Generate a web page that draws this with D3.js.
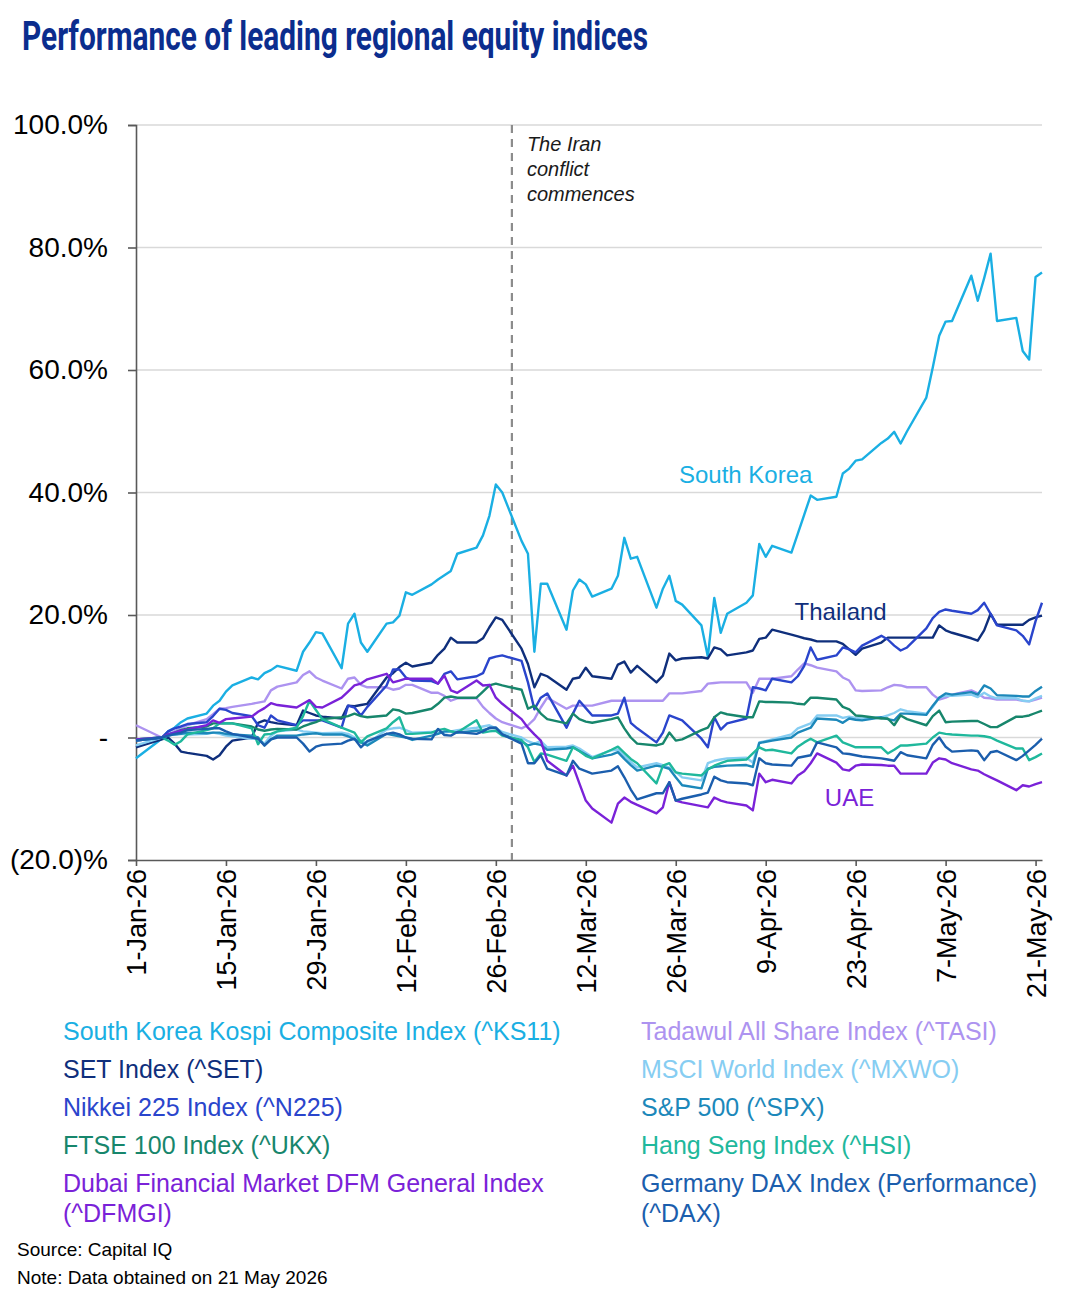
<!DOCTYPE html>
<html><head><meta charset="utf-8">
<script src="https://cdn.jsdelivr.net/npm/d3@7"></script>
<style>body{margin:0;background:#fff}svg{display:block}</style>
</head><body><svg id="c" width="1070" height="1293"></svg>
<script>
// ---------- DATA ----------
const dates = ["2026-01-01",
"2026-01-05","2026-01-06","2026-01-07","2026-01-08","2026-01-09",
"2026-01-12","2026-01-13","2026-01-14","2026-01-15","2026-01-16",
"2026-01-19","2026-01-20","2026-01-21","2026-01-22","2026-01-23",
"2026-01-26","2026-01-27","2026-01-28","2026-01-29","2026-01-30",
"2026-02-02","2026-02-03","2026-02-04","2026-02-05","2026-02-06",
"2026-02-09","2026-02-10","2026-02-11","2026-02-12","2026-02-13",
"2026-02-16","2026-02-17","2026-02-18","2026-02-19","2026-02-20",
"2026-02-23","2026-02-24","2026-02-25","2026-02-26","2026-02-27",
"2026-03-02","2026-03-03","2026-03-04","2026-03-05","2026-03-06",
"2026-03-09","2026-03-10","2026-03-11","2026-03-12","2026-03-13",
"2026-03-16","2026-03-17","2026-03-18","2026-03-19","2026-03-20",
"2026-03-23","2026-03-24","2026-03-25","2026-03-26","2026-03-27",
"2026-03-30","2026-03-31","2026-04-01","2026-04-02","2026-04-03",
"2026-04-06","2026-04-07","2026-04-08","2026-04-09","2026-04-10",
"2026-04-13","2026-04-14","2026-04-15","2026-04-16","2026-04-17",
"2026-04-20","2026-04-21","2026-04-22","2026-04-23","2026-04-24",
"2026-04-27","2026-04-28","2026-04-29","2026-04-30","2026-05-01",
"2026-05-04","2026-05-05","2026-05-06","2026-05-07","2026-05-08",
"2026-05-11","2026-05-12","2026-05-13","2026-05-14","2026-05-15",
"2026-05-18","2026-05-19","2026-05-20","2026-05-21","2026-05-22"];

const korea = [-3.4,
 -0.2,1.0,1.6,2.5,3.1, 3.9,5.2,6.0,7.5,8.5, 9.8,9.5,10.5,11.0,11.7, 10.9,14.0,15.5,17.2,17.0,
 11.3,18.6,20.2,15.5,14.0, 18.6,18.8,19.9,23.7,23.3, 25.0,25.8,26.5,27.2,30.0, 31.0,33.0,36.2,41.3,40.0,
 32.1,30.0,14.0,25.1,25.1, 17.6,24.0,25.8,25.0,23.0, 24.3,26.4,32.6,29.2,29.5, 21.2,24.3,26.4,22.3,21.7,
 18.3,13.2,22.8,17.1,20.2, 22.0,23.2,31.6,29.5,31.3, 30.2,33.3,36.4,39.5,38.8, 39.3,43.1,43.9,45.2,45.4,
 48.1,48.8,49.9,48.0,50.0, 55.5,60.4,65.6,67.9,68.0, 75.4,71.3,75.0,79.0,68.0, 68.5,63.1,61.7,75.2,75.9];

const setIdx = [-1.6,
 -0.3,0.0,-1.0,-2.3,-2.5, -3.0,-3.6,-2.9,-1.5,-0.5, 0.0,2.4,2.8,2.5,2.3, 2.0,4.4,4.0,3.6,3.4,
 3.1,5.2,5.1,5.3,5.5, 9.8,10.5,11.5,12.2,11.6, 12.2,13.5,14.5,16.3,15.5, 15.5,16.2,18.0,19.6,19.2,
 14.5,12.0,8.2,10.4,10.0, 7.8,9.6,9.8,11.4,10.0, 9.6,11.9,12.4,10.6,11.7, 9.0,10.1,13.7,12.6,12.9,
 13.1,12.9,14.7,14.4,13.4, 13.9,14.2,16.1,16.3,17.6, 16.8,16.5,16.2,16.0,15.7, 15.7,15.3,14.4,13.5,14.5,
 15.5,16.3,16.3,16.3,16.3, 16.3,16.3,18.3,17.5,17.1, 16.2,15.8,17.5,20.2,18.4, 18.4,18.4,19.2,19.6,19.9];

const nikkei = [-0.5,
 0.0,1.0,1.5,1.8,2.2, 2.5,3.5,4.7,4.5,4.0, 3.5,2.0,1.6,3.6,2.8, 2.0,2.8,2.8,2.8,2.8,
 1.6,5.2,4.9,3.6,5.0, 8.5,11.1,11.1,9.8,9.3, 9.2,8.8,10.4,10.8,9.5, 10.0,10.5,12.9,13.2,13.4,
 12.5,9.0,4.6,6.5,7.2, 1.6,3.9,6.0,4.8,3.6, 3.6,3.9,6.5,2.4,1.5, -0.8,0.8,3.6,3.2,2.8,
 -0.2,-1.6,3.3,1.3,2.3, 3.1,8.2,8.0,7.7,9.6, 9.0,10.0,11.7,14.7,12.7, 13.4,14.7,14.4,13.9,15.0,
 16.6,16.0,15.0,14.2,14.7, 17.8,19.5,20.5,20.9,20.7, 20.2,20.8,22.0,20.2,18.3, 17.5,16.6,15.2,19.0,22.0];

const ftse = [-0.3,
 0.0,0.5,0.8,1.2,1.5, 1.8,2.3,2.3,2.3,2.3, 1.8,1.3,1.1,1.3,1.4, 1.3,1.8,2.2,2.5,3.0,
 3.3,3.5,3.9,3.5,3.3, 3.6,4.6,4.4,3.9,4.0, 4.7,5.5,6.5,6.7,6.5, 6.5,7.5,8.5,8.8,8.5,
 7.8,4.7,5.2,3.9,3.0, 2.3,3.9,3.0,2.6,2.4, 3.0,3.3,1.5,0.0,-1.0, -1.3,-1.0,0.8,-0.5,-0.3,
 1.2,1.6,3.3,4.1,3.8, 3.3,3.3,5.9,5.8,5.8, 5.7,5.5,5.4,6.5,6.5, 6.2,5.0,4.6,3.6,3.5,
 3.1,3.1,2.0,3.6,3.0, 2.0,3.5,4.4,2.5,2.6, 2.7,2.7,2.2,1.7,1.7, 3.4,3.4,3.6,4.0,4.4];

const dfm = [-0.3,
 0.0,0.5,0.8,1.1,1.3, 2.0,2.8,2.4,3.0,3.1, 3.4,4.2,4.8,5.6,5.3, 4.9,5.5,6.1,5.0,4.9,
 6.5,7.5,8.5,8.8,9.5, 10.4,9.0,9.3,9.6,9.6, 9.6,8.8,10.1,7.7,7.3, 9.3,8.5,8.6,6.5,5.5,
 3.0,1.6,0.5,-0.5,-3.8, -6.2,-4.6,-7.5,-10.3,-11.6, -13.9,-10.8,-9.8,-10.5,-11.0, -12.4,-11.4,-7.3,-10.3,-10.6,
 -11.2,-11.4,-9.8,-10.3,-10.6, -11.1,-11.9,-5.9,-7.3,-6.9, -7.5,-6.2,-5.5,-4.2,-2.6, -4.1,-5.2,-5.4,-4.6,-4.4,
 -4.5,-4.6,-4.6,-5.9,-5.9, -5.9,-4.1,-3.4,-3.6,-4.2, -5.2,-5.4,-6.0,-6.5,-7.0, -8.6,-7.8,-8.0,-7.6,-7.3];

const tadawul = [2.0,
 0.0,0.5,1.0,1.5,2.0, 3.0,3.8,4.7,4.8,5.0, 5.5,5.7,5.9,7.7,8.3, 9.0,10.2,10.8,9.8,9.3,
 8.0,9.6,9.8,8.6,8.2, 8.2,7.8,8.0,8.6,8.6, 7.3,7.3,6.8,6.0,6.4, 6.4,5.0,4.0,3.1,2.5,
 1.5,2.0,3.0,4.9,6.5, 4.7,5.2,5.2,5.2,5.2, 6.0,6.0,6.0,6.0,6.0, 6.0,6.0,7.2,7.2,7.2,
 7.6,8.8,8.9,9.0,9.0, 9.0,7.3,9.6,9.6,9.6, 10.0,11.1,12.1,11.8,11.4, 10.8,9.8,9.3,7.7,7.6,
 7.7,8.2,8.6,8.5,8.2, 8.2,7.0,6.2,6.5,7.0, 7.7,7.2,6.5,6.4,6.2, 6.2,6.0,5.9,6.2,6.5];

const msci = [-1.3,
 0.0,0.3,0.5,0.6,0.5, 0.6,0.8,0.6,0.3,0.2, -0.2,-0.2,-1.0,0.3,1.0, 1.3,1.0,0.9,0.8,0.7,
 0.8,0.6,0.0,-0.5,-1.0, 1.3,1.5,1.6,1.2,0.8, 0.9,0.8,0.8,1.0,1.2, 1.6,1.8,2.0,1.5,0.9,
 0.0,-0.6,-1.0,-0.6,-1.6, -1.5,-1.3,-1.8,-2.5,-3.2, -2.1,-2.0,-3.0,-4.0,-4.9, -4.2,-4.5,-4.9,-5.6,-6.5,
 -7.0,-4.2,-3.8,-3.6,-3.4, -3.3,-4.1,-0.8,-0.6,-0.3, 0.5,1.5,1.9,2.3,3.6, 3.6,3.2,3.4,3.2,3.1,
 3.3,3.6,4.0,4.6,4.3, 3.9,5.0,6.5,6.8,6.8, 7.0,6.6,7.3,6.7,6.4, 6.4,6.0,5.9,6.4,6.8];

const spx = [-0.5,
 0.0,0.3,0.5,0.6,0.8, 0.7,0.8,0.8,0.6,0.5, 0.3,0.0,-1.3,-0.3,0.3, 0.3,0.5,0.6,0.7,0.5,
 0.5,0.2,-0.3,-0.8,-1.3, 0.6,0.4,0.2,0.0,-0.4, 0.3,0.6,1.0,1.0,0.8, 1.1,1.2,1.5,1.6,0.5,
 -0.6,-1.3,-1.0,-1.2,-2.0, -1.8,-1.6,-2.2,-2.8,-3.4, -2.8,-2.4,-3.5,-4.5,-5.4, -4.6,-4.8,-5.1,-6.5,-7.8,
 -8.3,-5.1,-4.8,-4.7,-4.6, -4.5,-4.8,-0.9,-0.7,-0.5, 0.0,0.8,1.2,1.6,3.1, 2.9,2.4,3.1,2.9,2.8,
 3.3,3.0,2.8,3.9,3.9, 3.7,5.2,6.5,7.2,7.0, 7.4,7.0,8.5,8.0,6.9, 6.8,6.7,6.7,7.6,8.3];

const hsi = [-0.3,
 0.0,-0.5,-1.2,-0.6,0.5, 1.2,1.5,2.3,2.3,2.3, 1.5,-1.1,0.5,0.6,1.0, 1.6,3.5,6.0,4.5,3.0,
 1.6,1.2,0.8,-0.8,0.2, 1.5,2.5,3.3,0.6,0.6, 0.8,1.2,1.4,1.0,0.8, 2.8,0.8,1.0,1.1,0.3,
 -0.4,-1.6,-4.0,-2.6,-2.8, -3.8,-1.6,-2.2,-3.0,-3.4, -2.0,-1.5,-2.5,-3.5,-4.2, -7.5,-4.6,-4.2,-5.7,-5.9,
 -6.2,-5.2,-4.6,-4.2,-3.8, -3.6,-2.6,-1.6,-2.1,-2.0, -2.6,-1.5,-0.8,-0.2,-0.8, 0.3,-0.8,-1.2,-1.6,-1.6,
 -1.6,-2.6,-2.0,-1.3,-1.3, -1.0,0.0,0.8,0.6,0.5, 0.3,0.3,0.2,0.0,-0.5, -1.8,-1.8,-3.7,-3.2,-2.6];

const dax = [-0.5,
 0.0,0.3,0.6,0.8,1.2, 1.4,1.5,1.5,1.0,0.6, 0.0,-0.2,-1.3,-0.3,0.0, 0.0,-1.0,-2.3,-1.5,-1.2,
 -1.0,-0.5,-0.2,-1.6,-0.6, 0.6,0.8,0.5,0.0,-0.2, -0.3,1.4,0.4,0.3,0.9, 0.6,1.0,1.6,1.6,0.5,
 -1.0,-4.2,-4.2,-2.9,-5.1, -6.2,-3.8,-5.1,-5.5,-5.9, -5.4,-4.7,-6.5,-8.5,-10.1, -9.1,-9.1,-7.3,-10.3,-10.0,
 -9.3,-9.0,-6.4,-7.0,-7.3, -7.5,-7.8,-3.4,-4.2,-4.4, -4.6,-3.3,-3.1,-2.9,-0.8, -1.6,-2.6,-2.7,-2.9,-3.1,
 -3.4,-3.6,-3.8,-2.4,-2.9, -3.4,-1.2,0.0,-1.5,-2.3, -2.1,-2.2,-3.7,-2.4,-2.2, -3.7,-3.0,-2.1,-1.2,-0.2];

const seriesValues = [korea, setIdx, nikkei, ftse, dfm, tadawul, msci, spx, hsi, dax];
const legendLabels = [
  ["South Korea Kospi Composite Index (^KS11)"],
  ["SET Index (^SET)"],
  ["Nikkei 225 Index (^N225)"],
  ["FTSE 100 Index (^UKX)"],
  ["Dubai Financial Market DFM General Index", "(^DFMGI)"],
  ["Tadawul All Share Index (^TASI)"],
  ["MSCI World Index (^MXWO)"],
  ["S&P 500 (^SPX)"],
  ["Hang Seng Index (^HSI)"],
  ["Germany DAX Index (Performance)", "(^DAX)"]
];
const colors = ["#1aafe3","#0f2f7c","#2a45cc","#17866c","#7a22d8",
                "#ad93f0","#86cdf2","#1c88ba","#1fb89c","#1b5ead"];
const yTicks = [-20, 0, 20, 40, 60, 80, 100];
const xTickDates = ["2026-01-01","2026-01-15","2026-01-29","2026-02-12","2026-02-26",
  "2026-03-12","2026-03-26","2026-04-09","2026-04-23","2026-05-07","2026-05-21"];
const xDomain = ["2026-01-01", "2026-05-22"];
const eventDate = "2026-02-28T12:00:00Z";
const eventText = ["The Iran", "conflict", "commences"];
const seriesTags = [
  {text: "South Korea", series: 0, date: "2026-03-26T12:00:00Z", value: 41.5},
  {text: "Thailand", series: 1, date: "2026-04-13T12:00:00Z", value: 19.2},
  {text: "UAE", series: 4, date: "2026-04-18T05:00:00Z", value: -11.2}
];

// ---------- CHART ----------
const svg = d3.select("#c");
const FONT = "'Liberation Sans', Arial, sans-serif";
svg.append("rect").attr("width", 1070).attr("height", 1293).attr("fill", "#fff");

const parse = d3.isoParse;
const x = d3.scaleUtc().domain(xDomain.map(parse)).range([136, 1042]);
const y = d3.scaleLinear().domain([-20, 100]).range([860, 125]);

// title
svg.append("text").attr("x", 22).attr("y", 50)
  .attr("font-family", "Roboto, 'Liberation Sans', sans-serif").attr("font-weight", 700)
  .attr("font-size", 40).attr("fill", "#0b2d8e")
  .attr("textLength", 626).attr("lengthAdjust", "spacingAndGlyphs")
  .text("Performance of leading regional equity indices");

// gridlines
svg.append("g").selectAll("line").data(yTicks.filter(v => v > -20)).join("line")
  .attr("x1", 136).attr("x2", 1042).attr("y1", d => y(d)).attr("y2", d => y(d))
  .attr("stroke", "#d9d9d9").attr("stroke-width", 1.6);

// y axis
const yAxis = d3.axisLeft(y).tickValues(yTicks).tickSize(8).tickPadding(20)
  .tickFormat(v => v === 0 ? "-" : (v < 0 ? "(" + Math.abs(v).toFixed(1) + ")%" : v.toFixed(1) + "%"));
const gy = svg.append("g").attr("transform", "translate(136,0)").call(yAxis);
gy.select(".domain").attr("stroke", "#595959").attr("stroke-width", 1.6);
gy.selectAll(".tick line").attr("stroke", "#595959").attr("stroke-width", 1.6);
gy.selectAll(".tick text").attr("font-family", FONT).attr("font-size", 28).attr("fill", "#000");

// x axis
const xAxis = d3.axisBottom(x).tickValues(xTickDates.map(parse)).tickSize(6).tickSizeOuter(0)
  .tickFormat(d3.utcFormat("%-d-%b-%y"));
const gx = svg.append("g").attr("transform", "translate(0,860)").call(xAxis);
gx.select(".domain").attr("stroke", "#595959").attr("stroke-width", 1.6);
gx.selectAll(".tick line").attr("stroke", "#595959").attr("stroke-width", 1.6);
gx.selectAll(".tick text").attr("font-family", FONT).attr("font-size", 27).attr("fill", "#000")
  .attr("transform", "rotate(-90)").attr("text-anchor", "end")
  .attr("x", -9).attr("y", 0).attr("dy", "0.35em");

// event line
const ex = x(parse(eventDate));
svg.append("line").attr("x1", ex).attr("x2", ex).attr("y1", 125).attr("y2", 860)
  .attr("stroke", "#8c8c8c").attr("stroke-width", 2.2).attr("stroke-dasharray", "8,6");
svg.append("g").selectAll("text").data(eventText).join("text")
  .attr("x", ex + 15).attr("y", (d, i) => 151 + i * 25)
  .attr("font-family", FONT).attr("font-style", "italic").attr("font-size", 20).attr("fill", "#1a1a1a")
  .text(d => d);

// lines
const line = d3.line().x((d, i) => x(parse(dates[i]))).y(d => y(d)).curve(d3.curveLinear);
const order = [0, 5, 1, 6, 2, 7, 3, 8, 4, 9];
svg.append("g").selectAll("path").data(order).join("path")
  .attr("d", k => line(seriesValues[k]))
  .attr("fill", "none").attr("stroke", k => colors[k])
  .attr("stroke-width", 2.4).attr("stroke-linejoin", "round");

// series tags
svg.append("g").selectAll("text").data(seriesTags).join("text")
  .attr("x", d => x(parse(d.date))).attr("y", d => y(d.value))
  .attr("font-family", FONT).attr("font-size", 24).attr("fill", d => colors[d.series])
  .text(d => d.text);

// legend
const legendRows = [1040, 1078, 1116, 1154, 1192];
const lg = svg.append("g");
legendLabels.forEach((lines, k) => {
  const col = k < 5 ? 0 : 1;
  const row = k % 5;
  lines.forEach((t, j) => {
    lg.append("text").attr("x", col === 0 ? 63 : 641).attr("y", legendRows[row] + j * 30)
      .attr("font-family", FONT).attr("font-size", 25).attr("fill", colors[k]).text(t);
  });
});

// source
svg.append("text").attr("x", 17).attr("y", 1256).attr("font-family", FONT).attr("font-size", 19)
  .attr("fill", "#000").text("Source: Capital IQ");
svg.append("text").attr("x", 17).attr("y", 1284).attr("font-family", FONT).attr("font-size", 19)
  .attr("fill", "#000").text("Note: Data obtained on 21 May 2026");
</script></body></html>
